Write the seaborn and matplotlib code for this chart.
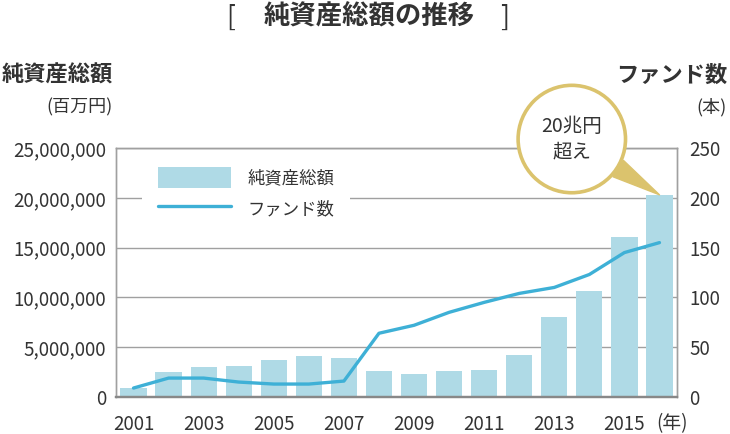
import numpy as np
import matplotlib
matplotlib.use("Agg")
import matplotlib.pyplot as plt
import seaborn as sns
from matplotlib.patches import Patch
from matplotlib.lines import Line2D
from matplotlib.ticker import FuncFormatter, FixedLocator

# ---- data ----
years = [str(y) for y in range(2001, 2017)]
net_assets = [900000, 2530000, 2970000, 3100000, 3700000, 4100000, 3900000, 2570000,
              2300000, 2630000, 2730000, 4200000, 8070000, 10600000, 16100000, 20300000]
fund_counts = [9, 19, 19, 15, 13, 13, 16, 64, 72, 85, 95, 104, 110, 123, 145, 155]
xtick_labels = [y if int(y) % 2 == 1 and int(y) <= 2015 else "" for y in years]
left_ticks = [0, 5000000, 10000000, 15000000, 20000000, 25000000]
right_ticks = [0, 50, 100, 150, 200, 250]

bar_color = "#afdae6"
line_color = "#3eb0d6"
gold = "#dbc36d"
text_color = "#333333"
grid_color = "#a0a0a0"

sns.set_theme(style="white")
plt.rcParams["font.family"] = ["Noto Sans CJK JP", "DejaVu Sans"]

fig = plt.figure(figsize=(7.3, 4.34), dpi=100)
fig.subplots_adjust(left=116/730, right=677/730, bottom=(434-397)/434, top=(434-148)/434)
ax = fig.add_subplot(111)

sns.barplot(x=years, y=net_assets, color=bar_color, saturation=1, width=0.75,
            linewidth=0, ax=ax, zorder=2)
ax.set_ylim(0, 25000000)
ax.set_xlim(-0.5, len(years) - 0.5)
ax.yaxis.set_major_locator(FixedLocator(left_ticks))
ax.yaxis.set_major_formatter(FuncFormatter(lambda v, p: f"{int(v):,}"))
ax.grid(axis="y", color=grid_color, linewidth=1, zorder=0)
ax.set_axisbelow(True)
ax.set_xticks(range(len(years)))
ax.set_xticklabels(xtick_labels)
ax.set_xticks(np.arange(0.5, len(years) - 0.5, 1), minor=True)
ax.tick_params(axis="x", which="major", length=0, pad=12, labelsize=13.5, labelcolor=text_color)
ax.tick_params(axis="x", which="minor", length=4, direction="in", color="#999999", width=1)
ax.tick_params(axis="y", length=0, pad=7, labelsize=13.5, labelcolor=text_color)
ax.set_xlabel("")
ax.set_ylabel("")

ax2 = ax.twinx()
sns.lineplot(x=np.arange(len(years)), y=fund_counts, color=line_color, linewidth=2.4, ax=ax2)
ax2.set_ylim(0, 250)
ax2.yaxis.set_major_locator(FixedLocator(right_ticks))
ax2.tick_params(axis="y", length=0, pad=9, labelsize=13.5, labelcolor=text_color)
ax2.set_ylabel("")
ax2.set_xlim(-0.5, len(years) - 0.5)

for a in (ax, ax2):
    for s in a.spines.values():
        s.set_color(grid_color)
        s.set_linewidth(1)
        s.set_visible(True)
    a.spines["bottom"].set_color("#888888")
    a.spines["bottom"].set_linewidth(1.6)

handles = [Patch(facecolor=bar_color, edgecolor="none"),
           Line2D([], [], color=line_color, linewidth=2.4)]
leg = ax2.legend(handles, ["純資産総額", "ファンド数"], loc="upper left",
                 bbox_to_anchor=((142-116)/561, (397-151)/249), frameon=True,
                 facecolor="white", edgecolor="none", framealpha=1, fontsize=12.5,
                 handlelength=4.2, handleheight=1.5, labelspacing=0.6,
                 handletextpad=1.0, borderpad=0.9, borderaxespad=0)
for t in leg.get_texts():
    t.set_color(text_color)

# bubble annotation
ax2.annotate("20兆円\n超え", xy=(15, net_assets[-1] / 100000), xytext=(12.5, 259),
             textcoords="data", ha="center", va="center", fontsize=14, color=text_color,
             linespacing=1.25, annotation_clip=False, zorder=10,
             bbox=dict(boxstyle="circle,pad=1.2", facecolor="white", edgecolor=gold, linewidth=2.6),
             arrowprops=dict(arrowstyle="wedge,tail_width=1.0,shrink_factor=0.5",
                             facecolor=gold, edgecolor=gold, shrinkA=0, shrinkB=0))

# titles / labels
fig.text(231/730, 1-17/434, "[", ha="center", va="center", fontsize=19, color=text_color)
fig.text(369/730, 1-17/434, "純資産総額の推移", ha="center", va="center", fontsize=19,
         weight="bold", color=text_color)
fig.text(505/730, 1-17/434, "]", ha="center", va="center", fontsize=19, color=text_color)
fig.text(2/730, 1-75/434, "純資産総額", ha="left", va="center", fontsize=16, weight="bold", color=text_color)
fig.text(113/730, 1-107/434, "(百万円)", ha="right", va="center", fontsize=13, color=text_color)
fig.text(727/730, 1-75/434, "ファンド数", ha="right", va="center", fontsize=16, weight="bold", color=text_color)
fig.text(727/730, 1-107/434, "(本)", ha="right", va="center", fontsize=13, color=text_color)
fig.text(656/730, 1-424/434, "(年)", ha="left", va="center", fontsize=13.5, color=text_color)

fig.savefig("out.png", dpi=100)
